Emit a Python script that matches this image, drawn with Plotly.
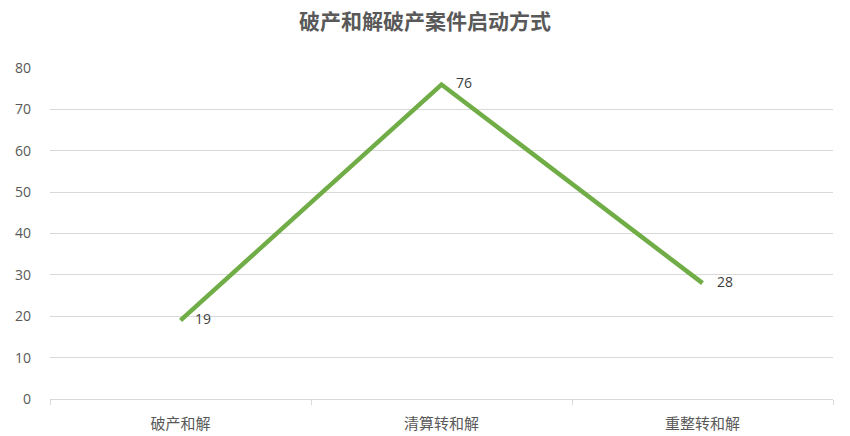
import plotly.graph_objects as go

# 破产和解破产案件启动方式
categories = ['破产和解', '清算转和解', '重整转和解']
values = [19, 76, 28]
y_ticks = [0, 10, 20, 30, 40, 50, 60, 70, 80]

fig = go.Figure()
fig.add_trace(go.Scatter(
    x=categories,
    y=values,
    mode='lines+text',
    line=dict(color='#70AD47', width=4.5),
    text=['    ' + str(v) for v in values],
    textposition='middle right',
    textfont=dict(family='Open Sans, Noto Sans, sans-serif', size=14, color='#404040'),
    cliponaxis=False,
    showlegend=False,
))

fig.update_layout(
    width=850, height=436,
    margin=dict(l=50, r=17, t=68, b=37),
    paper_bgcolor='white',
    plot_bgcolor='white',
    title=dict(
        text='<b>破产和解破产案件启动方式</b>',
        x=0.5, xanchor='center',
        y=0.95, yanchor='middle',
        font=dict(family='Noto Sans CJK SC', size=21, color='#595959'),
    ),
)
fig.update_xaxes(
    type='category',
    range=[-0.5, 2.5],
    automargin=False,
    showgrid=False,
    showline=True, linecolor='#d9d9d9', linewidth=1.2,
    ticks='outside', tickson='boundaries', ticklen=5, tickcolor='#d9d9d9',
    ticklabelstandoff=11,
    tickfont=dict(family='Noto Sans CJK SC', size=15, color='#595959'),
)
fig.update_yaxes(
    range=[0, 80],
    tickvals=y_ticks,
    automargin=False,
    showgrid=True, gridcolor='#d9d9d9', gridwidth=1,
    zeroline=False,
    ticks='', ticklabelstandoff=18,
    tickfont=dict(family='Open Sans, Noto Sans, sans-serif', size=14, color='#595959'),
)

# page body has a default margin; drop it so the figure fills the window
fig.write_html('out.html', config={'displayModeBar': False},
               post_script="document.body.style.margin='0';")
